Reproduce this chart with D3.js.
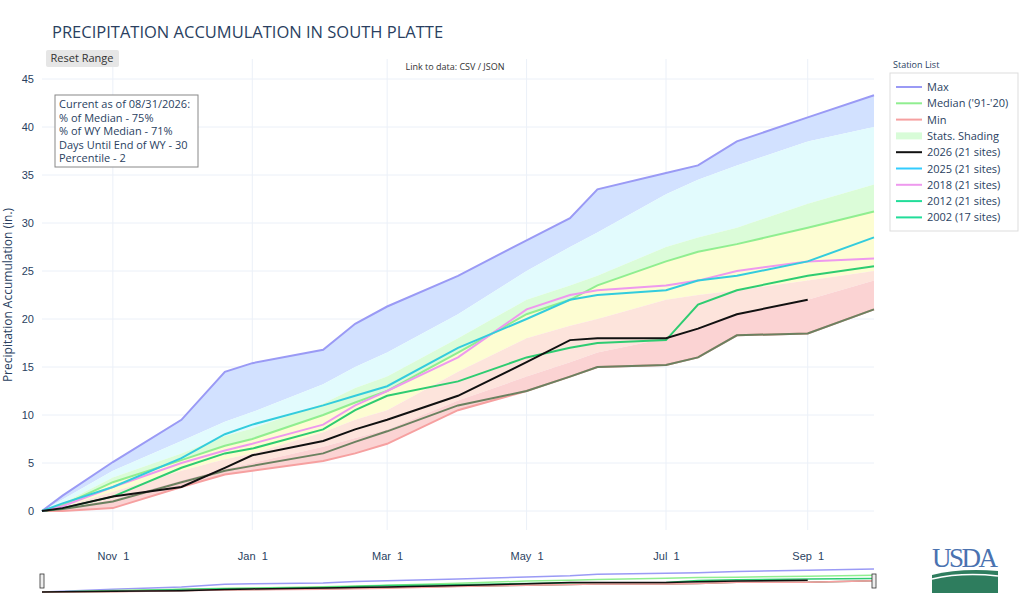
<!DOCTYPE html>
<html><head><meta charset="utf-8">
<script src="https://cdn.jsdelivr.net/npm/d3@7"></script>
<style>body{margin:0;background:#fff;font-family:"Open Sans",sans-serif}</style>
</head><body><div id="chart"></div>
<script>
const dates = ["2025-10-01","2025-10-10","2025-11-01","2025-12-01","2025-12-20","2026-01-01","2026-02-01","2026-02-15","2026-03-01","2026-04-01","2026-05-01","2026-05-20","2026-06-01","2026-07-01","2026-07-15","2026-08-01","2026-09-01","2026-09-30"];
const maxV    = [0, 1.6, 5.1, 9.5, 14.5, 15.4, 16.8, 19.5, 21.3, 24.5, 28.2, 30.5, 33.5, 35.2, 36, 38.5, 41, 43.3];
const p90     = [0, 1.2, 4.2, 7.3, 9.3, 10.3, 13.2, 15, 16.5, 20.5, 25, 27.5, 29, 33, 34.5, 36, 38.5, 40];
const p70     = [0, 0.8, 3.5, 6, 7.8, 8.6, 11.2, 12.8, 14, 18, 22, 23.5, 24.5, 27.5, 28.5, 29.5, 32, 34];
const median  = [0, 0.6, 3, 5.3, 6.8, 7.5, 10, 11.3, 12.5, 16.5, 20.5, 22, 23.5, 26, 27, 27.8, 29.5, 31.2];
const p30     = [0, 0.4, 2, 4.2, 5.4, 6, 8.2, 9.5, 10.5, 14.5, 18, 19.3, 20, 22, 22.5, 23, 24, 25];
const p10     = [0, 0.2, 1.2, 3.2, 4.4, 5, 6.7, 7.6, 8.5, 11.5, 14, 15.5, 16.5, 18, 19, 20.5, 22, 24];
const minV    = [0, 0, 0.3, 2.5, 3.8, 4.2, 5.2, 6, 7, 10.5, 12.5, 14, 15, 15.2, 16, 18.3, 18.5, 21];
const y2026   = [0, 0.3, 1.5, 2.5, 4.5, 5.8, 7.3, 8.5, 9.5, 12, 15.5, 17.8, 18, 18, 19, 20.5, 22, null];
const y2025   = [0, 0.8, 2.5, 5.5, 8, 9, 11, 12, 13, 17, 20, 22, 22.5, 23, 24, 24.5, 26, 28.5];
const y2018   = [0, 0.5, 2.5, 5, 6.3, 7, 9, 11, 12.5, 16, 21, 22.5, 23, 23.5, 24, 25, 26, 26.3];
const y2012   = [0, 0.3, 1.5, 4.5, 6, 6.5, 8.5, 10.5, 12, 13.5, 16, 17, 17.5, 17.8, 21.5, 23, 24.5, 25.5];
const y2002   = [0, 0.2, 1, 3, 4.2, 4.7, 6, 7.2, 8.3, 11, 12.5, 14, 15, 15.2, 16, 18.3, 18.5, 21];
const yTicks  = [0, 5, 10, 15, 20, 25, 30, 35, 40, 45];

const W = 1023, H = 597;
const m = {left: 42, right: 874, top: 79, bottom: 511};
const parse = d3.timeParse("%Y-%m-%d");
const dts = dates.map(parse);

const svg = d3.select("#chart").append("svg").attr("width", W).attr("height", H)
  .style("font-family", "'Open Sans',sans-serif");

const x = d3.scaleTime().domain([parse("2025-10-01"), parse("2026-09-30")]).range([m.left, m.right]);
const y = d3.scaleLinear().domain([0, 45]).range([m.bottom, m.top]);

// gridlines
svg.append("g").selectAll("line").data(yTicks).enter().append("line")
  .attr("x1", m.left).attr("x2", m.right).attr("y1", d => y(d)).attr("y2", d => y(d))
  .attr("stroke", "#ebf0f8");
const xTicks = ["2025-11-01","2026-01-01","2026-03-01","2026-05-01","2026-07-01","2026-09-01"].map(parse);
svg.append("g").selectAll("line").data(xTicks).enter().append("line")
  .attr("x1", d => x(d)).attr("x2", d => x(d)).attr("y1", m.top - 20).attr("y2", 530)
  .attr("stroke", "#ebf0f8");

// bands
const bands = [[maxV, p90, "#d2e1ff"], [p90, p70, "#e2fbfd"], [p70, median, "#dbfcd8"],
               [median, p30, "#fdfdd2"], [p30, p10, "#fde4dc"], [p10, minV, "#fbd3d3"]];
const area = (hi, lo) => d3.area().x((d, i) => x(dts[i])).y0((d, i) => y(lo[i])).y1(d => y(d))(hi);
bands.forEach(b => svg.append("path").attr("d", area(b[0], b[1])).attr("fill", b[2]));

const line = (vals, sx, sy) => d3.line().defined(d => d != null)
  .x((d, i) => sx(dts[i])).y(d => sy(d))(vals);

const series = [
  [maxV, "#9a9af5", 2], [median, "#90ee90", 2], [minV, "#f6a0a0", 2],
  [y2002, "#6b8160", 2], [y2012, "#2ecc71", 2], [y2018, "#ee99ee", 2],
  [y2025, "#33ccdd", 2], [y2026, "#111111", 2]
];
series.forEach(s => svg.append("path").attr("d", line(s[0], x, y))
  .attr("fill", "none").attr("stroke", s[1]).attr("stroke-width", s[2]));

// axes
const ya = svg.append("g").attr("transform", `translate(${m.left - 4},0)`)
  .call(d3.axisLeft(y).tickValues(yTicks).tickSize(0).tickPadding(4));
ya.select(".domain").remove();
ya.selectAll("text").attr("font-size", 11).attr("fill", "#2a3f5f");
const xa = svg.append("g").attr("transform", `translate(0,${m.bottom + 38})`)
  .call(d3.axisBottom(x).tickValues(xTicks).tickFormat(d3.timeFormat("%b  %-d")).tickSize(0));
xa.select(".domain").remove();
xa.selectAll("text").attr("font-size", 11).attr("fill", "#2a3f5f").style("white-space", "pre");

svg.append("text").attr("transform", `translate(12,${(m.top + m.bottom) / 2}) rotate(-90)`)
  .attr("text-anchor", "middle").attr("font-size", 12).attr("fill", "#2a3f5f").text("Precipitation Accumulation (in.)");

// title, button, link
svg.append("text").attr("x", 52).attr("y", 38).attr("font-size", 16.5).attr("fill", "#2a3f5f")
  .text("PRECIPITATION ACCUMULATION IN SOUTH PLATTE");
svg.append("rect").attr("x", 46).attr("y", 50).attr("width", 73).attr("height", 17).attr("fill", "#e6e6e6").attr("rx", 2);
svg.append("text").attr("x", 82).attr("y", 62).attr("text-anchor", "middle").attr("font-size", 11).attr("fill", "#333").text("Reset Range");
svg.append("text").attr("x", 455).attr("y", 70).attr("text-anchor", "middle").attr("font-size", 9).attr("fill", "#333").text("Link to data: CSV / JSON");

// annotation box
const notes = ["Current as of 08/31/2026:", "% of Median - 75%", "% of WY Median - 71%", "Days Until End of WY - 30", "Percentile - 2"];
svg.append("rect").attr("x", 55).attr("y", 95).attr("width", 143).attr("height", 72)
  .attr("fill", "#fff").attr("stroke", "#888");
svg.append("g").selectAll("text").data(notes).enter().append("text")
  .attr("x", 59).attr("y", (d, i) => 108 + i * 13.5).attr("font-size", 11).attr("fill", "#2a3f5f").text(d => d);

// legend
svg.append("text").attr("x", 893).attr("y", 68).attr("font-size", 9).attr("fill", "#2a3f5f").text("Station List");
svg.append("rect").attr("x", 890).attr("y", 73).attr("width", 128).attr("height", 158)
  .attr("fill", "#fff").attr("stroke", "#ddd");
const legend = [["Max", "#9a9af5", 2], ["Median ('91-'20)", "#90ee90", 2], ["Min", "#f6a0a0", 2],
  ["Stats. Shading", "#d8fcd8", 7], ["2026 (21 sites)", "#111111", 2], ["2025 (21 sites)", "#33ccff", 2],
  ["2018 (21 sites)", "#ee99ee", 2], ["2012 (21 sites)", "#22dd99", 2], ["2002 (17 sites)", "#22dd99", 2]];
const lg = svg.append("g").selectAll("g").data(legend).enter().append("g")
  .attr("transform", (d, i) => `translate(896,${87 + i * 16.3})`);
lg.append("line").attr("x1", 0).attr("x2", 26).attr("stroke", d => d[1]).attr("stroke-width", d => d[2]);
lg.append("text").attr("x", 31).attr("y", 4).attr("font-size", 11).attr("fill", "#2a3f5f").text(d => d[0]);

// range slider
const ys = d3.scaleLinear().domain([0, 45]).range([592, 568]);
svg.append("rect").attr("x", m.left).attr("y", 566).attr("width", m.right - m.left).attr("height", 27).attr("fill", "#fff");
[[maxV, "#9a9af5"], [median, "#90ee90"], [y2012, "#2ecc71"], [y2002, "#6b8160"], [minV, "#f6a0a0"], [y2026, "#111"]]
  .forEach(s => svg.append("path").attr("d", line(s[0], x, ys)).attr("fill", "none").attr("stroke", s[1]).attr("stroke-width", 1.5));
[m.left, m.right].forEach(px => svg.append("rect").attr("x", px - 2).attr("y", 574).attr("width", 4).attr("height", 14)
  .attr("fill", "#eee").attr("stroke", "#333").attr("stroke-width", 0.8));

// USDA logo
svg.append("text").attr("x", 965).attr("y", 567).attr("text-anchor", "middle").attr("font-size", 27)
  .attr("font-family", "'Liberation Serif',serif").attr("fill", "#4a72b0").attr("textLength", 66).text("USDA");
svg.append("path").attr("d", "M932,575 Q960,568 998,571 L998,593 L932,593 Z").attr("fill", "#2e7d5e");
svg.append("path").attr("d", "M932,579 Q962,572 998,576").attr("fill", "none").attr("stroke", "#fff").attr("stroke-width", 1.5);
</script></body></html>
